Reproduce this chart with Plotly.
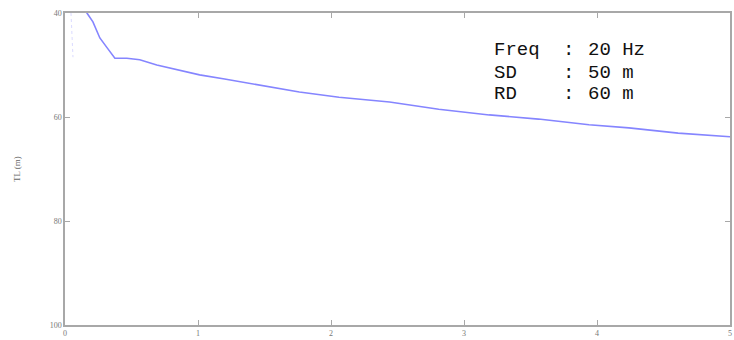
import plotly.graph_objects as go

# Transmission loss along range (km), dB
range_km = [0.10, 0.165, 0.21, 0.262, 0.32, 0.375, 0.465, 0.562, 0.69, 0.85, 1.012,
            1.2, 1.387, 1.58, 1.762, 2.06, 2.44, 2.81, 3.19, 3.56, 3.94, 4.24, 4.61, 5.0]
tl_db = [36.0, 40.0, 41.7, 44.8, 46.8, 48.7, 48.7, 49.0, 50.0, 51.0, 51.9,
         52.7, 53.5, 54.4, 55.2, 56.2, 57.1, 58.5, 59.6, 60.4, 61.5, 62.1, 63.1, 63.8]

# Faint near-field trace close to the source
near_range = [0.045, 0.05, 0.055, 0.06]
near_tl = [40.0, 43.0, 46.0, 48.5]

x_ticks = [0, 1, 2, 3, 4, 5]
y_ticks = [40, 60, 80, 100]

# Run parameters shown as a small three-column table
info_names = ["Freq", "SD", "RD"]
info_values = ["20 Hz", "50 m", "60 m"]
info_y = [47.1, 51.5, 55.5]

fig = go.Figure()
fig.add_trace(go.Scatter(x=near_range, y=near_tl, mode="lines",
                         line=dict(color="rgba(150,150,255,0.35)", width=1, dash="dot"),
                         hoverinfo="skip"))
fig.add_trace(go.Scatter(x=range_km, y=tl_db, mode="lines",
                         line=dict(color="#8585ff", width=1.6)))

axis_common = dict(showline=True, linecolor="#a8a8a8", linewidth=1.5, mirror="ticks",
                   ticks="inside", ticklen=5, tickcolor="#a8a8a8", tickwidth=1,
                   showgrid=False, zeroline=False,
                   tickfont=dict(family="Liberation Serif", size=8, color="#777"))

fig.update_xaxes(range=[0, 5], tickvals=x_ticks, **axis_common)
fig.update_yaxes(range=[100, 40], tickvals=y_ticks, **axis_common)

mono = dict(family="Liberation Mono", size=19, color="#111")
for name, val, yv in zip(info_names, info_values, info_y):
    fig.add_annotation(x=3.21, y=yv, xref="x", yref="y", text=name, showarrow=False,
                       xanchor="left", yanchor="middle", font=mono)
    fig.add_annotation(x=3.73, y=yv, xref="x", yref="y", text=":", showarrow=False,
                       xanchor="left", yanchor="middle", font=mono)
    fig.add_annotation(x=3.92, y=yv, xref="x", yref="y", text=val, showarrow=False,
                       xanchor="left", yanchor="middle", font=mono)

fig.add_annotation(x=-0.072, y=0.5, xref="paper", yref="paper", text="TL (m)",
                   showarrow=False, textangle=-90, xanchor="center", yanchor="middle",
                   font=dict(family="Liberation Serif", size=9, color="#666"))

fig.update_layout(width=734, height=340, margin=dict(l=65, r=2, t=13, b=15),
                  paper_bgcolor="white", plot_bgcolor="white", showlegend=False)

fig.write_html("out.html")
